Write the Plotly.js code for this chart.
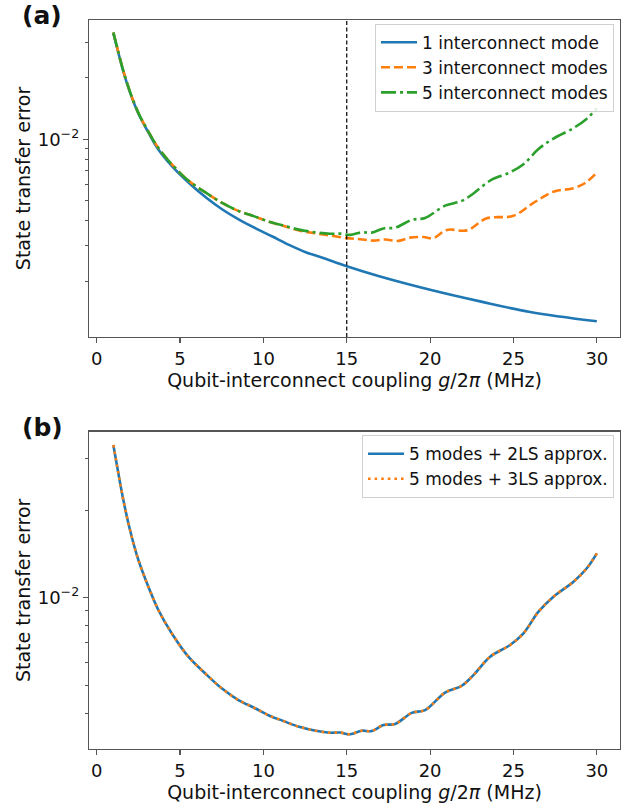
<!DOCTYPE html>
<html>
<head>
<meta charset="utf-8">
<script src="https://cdn.plot.ly/plotly-3.0.1.min.js"></script>
<style>
  html, body { margin: 0; padding: 0; background: #fff; }
  #chart { width: 621px; height: 806px; }
</style>
</head>
<body>
<div id="chart"></div>
<script>
// ---- Data ----
// 1 interconnect mode (top panel, blue)
const gOne = [1.0, 1.3, 1.6, 2.0, 2.5, 3.1, 3.7, 4.54, 5.54, 6.54, 7.54, 8.54, 9.54, 10.54, 11.54, 12.54, 13.54, 15.0, 17.0, 20.0, 23.0, 26.0, 30.0];
const errOne = [0.0331, 0.0266, 0.0215, 0.0170, 0.01338, 0.0108, 0.0089, 0.00734, 0.0061, 0.00519, 0.00452, 0.00403, 0.00365, 0.00333, 0.00303, 0.00279, 0.00262, 0.00238, 0.00212, 0.001825, 0.0016, 0.00142, 0.001277];

// 3 interconnect modes (top panel, orange dashed)
const gThree = [1.0, 1.3, 1.6, 2.0, 2.5, 3.1, 3.7, 4.5, 5.5, 6.5, 7.5, 8.5, 9.5, 10.4, 11.14, 12.14, 13.14, 14.0, 15.0, 15.8, 16.6, 17.3, 18.1, 18.8, 19.6, 20.2, 21.0, 22.2, 23.4, 25.0, 26.2, 27.4, 28.6, 29.3, 30.0];
const errThree = [0.03348, 0.02676, 0.02166, 0.01708, 0.01348, 0.01091, 0.00907, 0.00755, 0.00627, 0.0055, 0.00488, 0.00445, 0.00417, 0.00392, 0.00377, 0.00357, 0.00345, 0.00337, 0.00327, 0.00323, 0.00318, 0.00322, 0.00317, 0.00329, 0.00331, 0.00327, 0.00359, 0.00357, 0.00409, 0.00421, 0.00487, 0.00553, 0.00575, 0.0061, 0.00686];

// 5 interconnect modes (top panel green, bottom panel both approximations)
const gFive = [1.0, 1.3, 1.6, 2.0, 2.5, 3.1, 3.7, 4.5, 5.5, 6.5, 7.5, 8.5, 9.5, 10.4, 11.14, 12.14, 13.14, 14.0, 14.6, 15.2, 15.9, 16.5, 17.2, 17.9, 18.9, 19.7, 20.9, 21.9, 22.6, 23.6, 24.8, 25.6, 26.5, 27.4, 28.6, 29.4, 30.0];
const errFive = [0.03348, 0.02676, 0.02166, 0.01708, 0.01348, 0.01091, 0.00907, 0.00755, 0.00627, 0.0055, 0.00488, 0.00445, 0.00417, 0.00392, 0.00378, 0.0036, 0.00349, 0.003436, 0.00344, 0.003393, 0.00349, 0.00348, 0.00365, 0.00368, 0.00402, 0.00411, 0.00472, 0.00498, 0.00542, 0.00627, 0.00688, 0.00754, 0.00895, 0.01008, 0.01135, 0.01262, 0.0142];

const markerG = 15;
const xTicks = [0, 5, 10, 15, 20, 25, 30];
const yTickVals = [0.01];
const yTickText = ['10<sup>\u22122</sup>'];
const minorTop = [0.002, 0.003, 0.004, 0.005, 0.006, 0.007, 0.008, 0.009, 0.02, 0.03];
const minorBottom = [0.004, 0.005, 0.006, 0.007, 0.008, 0.009, 0.02, 0.03];

const C_BLUE = '#1f77b4', C_ORANGE = '#ff7f0e', C_GREEN = '#2ca02c';
const FONT = 'DejaVu Sans, sans-serif';
const LW = 2.6;

const traces = [
  { x: gOne, y: errOne, name: '1 interconnect mode', mode: 'lines', line: { color: C_BLUE, width: LW, shape: 'spline' }, xaxis: 'x', yaxis: 'y', legend: 'legend' },
  { x: gThree, y: errThree, name: '3 interconnect modes', mode: 'lines', line: { color: C_ORANGE, width: LW, dash: '9px,4px', shape: 'spline' }, xaxis: 'x', yaxis: 'y', legend: 'legend' },
  { x: gFive, y: errFive, name: '5 interconnect modes', mode: 'lines', line: { color: C_GREEN, width: LW, dash: '15px,4px,3px,4px', shape: 'spline' }, xaxis: 'x', yaxis: 'y', legend: 'legend' },
  { x: gFive, y: errFive, name: '5 modes + 2LS approx.', mode: 'lines', line: { color: C_BLUE, width: LW, shape: 'spline' }, xaxis: 'x2', yaxis: 'y2', legend: 'legend2' },
  { x: gFive, y: errFive, name: '5 modes + 3LS approx.', mode: 'lines', line: { color: C_ORANGE, width: LW, dash: '2.6px,4px', shape: 'spline' }, xaxis: 'x2', yaxis: 'y2', legend: 'legend2' }
];

const xTitle = 'Qubit-interconnect coupling <i>g</i>/2<i>\u03c0</i> (MHz)';
const axisCommon = {
  showline: true, mirror: true, linecolor: '#555', linewidth: 1.2,
  showgrid: false, zeroline: false,
  ticks: 'outside', ticklen: 5, tickwidth: 1.2, tickcolor: '#555',
  tickfont: { family: FONT, size: 18, color: '#111' }
};

function xAxis(anchor) {
  return Object.assign({}, axisCommon, {
    anchor: anchor, domain: [0, 1], range: [-0.46, 31.39],
    tickmode: 'array', tickvals: xTicks,
    title: { text: xTitle, font: { family: FONT, size: 19, color: '#111' }, standoff: 3 }
  });
}
function yAxis(anchor, domain, range, minorVals) {
  return Object.assign({}, axisCommon, {
    anchor: anchor, domain: domain, type: 'log', range: range,
    tickmode: 'array', tickvals: yTickVals, ticktext: yTickText,
    minor: { tickmode: 'array', tickvals: minorVals, ticks: 'outside', ticklen: 3, tickwidth: 1, tickcolor: '#555' },
    title: { text: 'State transfer error', font: { family: FONT, size: 19, color: '#111' }, standoff: 2 }
  });
}

const legendCommon = {
  xanchor: 'right', yanchor: 'top',
  bgcolor: 'rgba(255,255,255,0.85)', bordercolor: '#d0d0d0', borderwidth: 1,
  font: { family: FONT, size: 17, color: '#111' }, tracegroupgap: 0, itemwidth: 36
};

const layout = {
  width: 621, height: 806,
  margin: { l: 89, r: 1, t: 20, b: 57 },
  paper_bgcolor: '#fff', plot_bgcolor: '#fff',
  font: { family: FONT, size: 18, color: '#111' },
  showlegend: true,
  xaxis: xAxis('y'),
  yaxis: yAxis('x', [0.5652, 1], [Math.log10(0.00107), Math.log10(0.0385)], minorTop),
  xaxis2: xAxis('y2'),
  yaxis2: yAxis('x2', [0, 0.4353], [-2.52, -1.4296], minorBottom),
  legend: Object.assign({}, legendCommon, { x: 0.9887, y: 0.995 }),
  legend2: Object.assign({}, legendCommon, { x: 0.9887, y: 0.4305 }),
  shapes: [
    { type: 'line', xref: 'x', yref: 'y domain', x0: markerG, x1: markerG, y0: 0, y1: 1, line: { color: '#000', width: 1.2, dash: '4px,2.5px' } }
  ],
  annotations: [
    { text: '<b>(a)</b>', xref: 'paper', yref: 'paper', x: -0.1303, y: 1.006, xanchor: 'left', yanchor: 'middle', showarrow: false, font: { family: FONT, size: 25, color: '#111' } },
    { text: '<b>(b)</b>', xref: 'paper', yref: 'paper', x: -0.1303, y: 0.4417, xanchor: 'left', yanchor: 'middle', showarrow: false, font: { family: FONT, size: 25, color: '#111' } }
  ]
};

Plotly.newPlot('chart', traces, layout, { displayModeBar: false, staticPlot: true });
</script>
</body>
</html>
